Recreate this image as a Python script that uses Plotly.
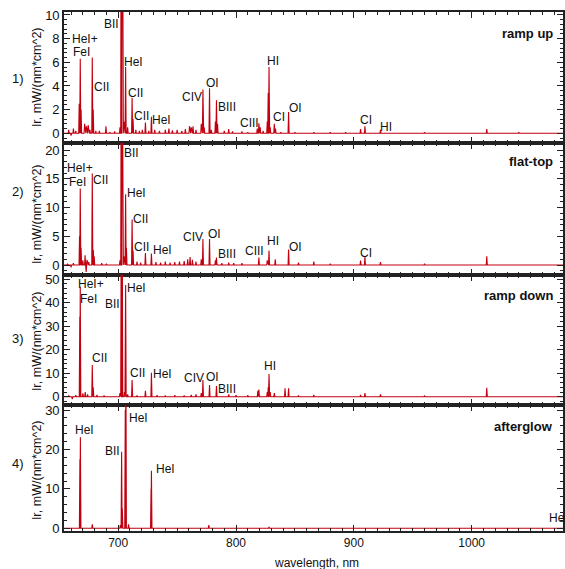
import plotly.graph_objects as go

# ---------------- data ----------------
WL_MIN, WL_MAX = 654.0, 1077.5

# panel 1: ramp up  (wavelength nm, intensity mW/(nm*cm^2))
ramp_up_wl = [658, 660, 662, 664, 666.9, 667.8, 668.5, 671.5, 673, 674.5, 676,
              678.0, 678.8, 681, 684, 689.6, 693, 697, 701.5, 702.6, 703.4,
              704.8, 706.3, 708, 711.8, 712.6, 715, 718, 720.5, 723.1, 726,
              728.2, 731, 735, 740, 743, 746, 750, 754, 757, 760.5, 762,
              763.5, 766, 770.5, 771.9, 773, 777.5, 779, 782.5, 783.4, 784.3,
              790, 793.8, 797, 805, 810, 818, 819.4, 820.5, 823, 826.5, 827.3,
              828.0, 829, 832.5, 833.5, 838, 844.6, 850, 866, 880, 893, 905.7,
              909.4, 922.6, 960, 1012.8, 1040]
ramp_up_int = [0.3, -0.2, 0.4, 0.2, 2.5, 6.3, 2.0, 0.8, 0.6, 0.7, 0.3,
               6.4, 2.0, 0.2, 0.2, 0.6, 0.1, 0.15, 0.5, 30, 30,
               1.0, 5.6, 0.5, 3.0, 1.2, 0.3, 0.2, 0.3, 0.9, 0.2,
               1.4, 0.3, 0.2, 0.3, 0.4, 0.25, 0.3, 0.2, 0.35, 0.6, 0.5,
               0.6, 0.3, 0.8, 3.7, 0.5, 3.8, 0.3, 1.0, 2.8, 0.8,
               0.2, 0.35, 0.15, 0.15, 0.1, 0.4, 0.85, 0.5, 0.2, 1.0, 3.4,
               5.6, 0.5, 0.8, 0.4, 0.1, 1.8, 0.1, 0.1, 0.1, 0.1, 0.35,
               0.6, 0.3, 0.1, 0.35, 0.1]

# panel 2: flat-top
flat_top_wl = [657, 660, 662, 667.2, 667.8, 668.5, 670, 671.9, 672.8, 673.5, 675,
               678.0, 678.9, 679.6, 686, 690, 701.5, 702.6, 703.4, 704.8, 706.3,
               707, 711.8, 712.6, 716, 719, 723.1, 728.2, 732, 736, 740, 744,
               748, 752, 756, 759, 761, 763, 766, 770.5, 771.9, 777.5, 782.5,
               783.4, 788, 793.8, 798, 805, 819.4, 826.5, 828.0, 833.3, 844.6,
               853, 866, 880, 905.7, 909.4, 922.6, 960, 1012.8]
flat_top_int = [0.2, -0.4, 0.3, 5.0, 13.3, 3.0, 0.8, 1.7, -1.2, 0.9, 0.5,
                15.9, 2.6, 1.5, 0.3, 0.2, 0.8, 40, 40, 1.5, 12.3,
                3.0, 7.9, 2.5, 0.6, 0.4, 2.1, 2.0, 0.5, 0.4, 0.6, 0.4,
                0.5, 0.6, 0.7, 1.0, 1.4, 0.9, 0.6, 1.0, 4.5, 4.5, 0.8,
                1.3, 0.3, 0.4, 0.3, 0.3, 1.3, 0.8, 2.5, 1.0, 2.7,
                0.4, 0.6, 0.2, 0.75, 1.4, 0.5, 0.2, 1.5]

# panel 3: ramp down
ramp_down_wl = [658, 661, 664, 667.4, 667.8, 670, 672, 674, 678.0, 678.8, 682,
                688, 701.5, 702.6, 703.4, 705.3, 706.3, 708, 711.8, 716, 723.1,
                728.2, 733, 740, 748, 756, 762, 766, 770.5, 771.9, 777.5, 783.4,
                793.8, 800, 810, 818.5, 819.4, 826.5, 827.3, 828.0, 829, 832.5,
                841.6, 844.6, 853, 866, 880, 905.7, 909.4, 922.6, 960, 1012.8]
ramp_down_int = [0.5, -1.0, 0.6, 34, 46.8, 1.4, 2.0, 1.0, 13.5, 4.0, 0.8,
                 0.5, 1.5, 80, 80, 2.0, 47.5, 1.0, 7.1, 0.5, 2.5,
                 10.2, 0.6, 0.5, 0.6, 0.5, 0.8, 1.0, 1.5, 7.1, 5.0, 4.5,
                 1.0, 0.6, 0.6, 2.5, 3.0, 2.0, 4.0, 9.7, 2.0, 1.5,
                 3.6, 3.6, 0.5, 0.8, 0.3, 0.8, 1.5, 1.0, 0.3, 3.8]

# panel 4: afterglow
afterglow_wl = [667.5, 667.9, 678.0, 701.8, 702.9, 703.5, 706.0, 706.5, 708.8,
                727.9, 728.2, 776.9, 828.0]
afterglow_int = [17.5, 23.1, 1.0, 0.8, 19.4, 5.0, 30, 45, 1.0,
                 10, 14.6, 0.8, 0.3]

# line identification labels: (text, wavelength, intensity)
labels_1 = [("HeI+", 671.9, 7.95), ("FeI", 668.5, 6.85), ("CII", 686.0, 3.89),
            ("BII", 694.4, 9.24), ("HeI", 713.3, 6.05), ("CII", 714.8, 3.38),
            ("CII", 719.8, 1.46), ("HeI", 736.9, 1.12), ("CIV", 762.9, 3.09),
            ("OI", 780.1, 4.28), ("BIII", 792.7, 2.25), ("CIII", 811.6, 0.85),
            ("HI", 831.6, 6.14), ("CI", 836.4, 1.40), ("OI", 850.5, 2.11),
            ("CI", 910.0, 1.12), ("HI", 926.9, 0.56)]
labels_2 = [("HeI+", 667.6, 16.9), ("FeI", 665.5, 14.5), ("CII", 685.2, 14.8),
            ("BII", 711.3, 19.4), ("HeI", 715.6, 12.5), ("CII", 719.0, 7.95),
            ("CII", 719.8, 3.18), ("HeI", 737.4, 2.61), ("CIV", 763.4, 4.82),
            ("OI", 781.5, 5.39), ("BIII", 792.6, 1.91), ("CIII", 815.6, 2.49),
            ("HI", 831.0, 4.23), ("OI", 850.5, 3.18), ("CI", 910.2, 2.03)]
labels_3 = [("HeI+", 676.8, 48.0), ("FeI", 675.1, 41.4), ("BII", 695.3, 39.4),
            ("HeI", 715.8, 46.1), ("CII", 684.4, 16.3), ("CII", 716.5, 10.2),
            ("HeI", 737.4, 9.66), ("CIV", 764.0, 7.83), ("OI", 780.1, 8.26),
            ("BIII", 792.7, 3.15), ("HI", 829.1, 13.1)]
labels_4 = [("HeI", 671.0, 24.9), ("BII", 695.5, 19.7), ("HeI", 717.3, 27.9),
            ("HeI", 739.9, 15.0)]

phase_names = ["ramp up", "flat-top", "ramp down", "afterglow"]
panel_tags = ["1)", "2)", "3)", "4)"]
y_ranges = [[-0.82, 10.25], [-1.74, 21.22], [-3.53, 51.79], [-0.69, 31.29]]
y_dticks = [2, 5, 10, 10]
y_minor = [0.4, 1, 2, 2]
x_tickvals = [700, 800, 900, 1000]

# ---------------- layout helpers ----------------
W, H = 565, 569
ML, MR, MT, MB = 64, 0, 12, 38
plot_h = H - MT - MB
panel_px = [12, 143, 275, 405, 531]


def py(pix):
    return (H - MB - pix) / plot_h


def px(pix):
    return (pix - ML) / (W - ML - MR)


domains = [[py(panel_px[i + 1]), py(panel_px[i])] for i in range(4)]

RED = "#c20010"
HALF = 0.45


def spectrum(wl, inten):
    pairs = sorted(zip(wl, inten))
    xs, ys = [WL_MIN], [0.0]
    for w, h in pairs:
        xs += [w - HALF, w, w + HALF]
        ys += [0.0, h, 0.0]
    xs.append(WL_MAX)
    ys.append(0.0)
    return xs, ys


spectra = [(ramp_up_wl, ramp_up_int), (flat_top_wl, flat_top_int),
           (ramp_down_wl, ramp_down_int), (afterglow_wl, afterglow_int)]
all_labels = [labels_1, labels_2, labels_3, labels_4]

fig = go.Figure()
font_main = "Arial, Liberation Sans, sans-serif"

for i, (wl, inten) in enumerate(spectra):
    k = "" if i == 0 else str(i + 1)
    xs, ys = spectrum(wl, inten)
    fig.add_trace(go.Scatter(x=xs, y=ys, mode="lines",
                             line=dict(color=RED, width=1.1),
                             xaxis="x" + k, yaxis="y" + k,
                             showlegend=False, hoverinfo="skip"))

annotations = []
title_centers = [77, 214, 341, 470]
tag_centers = [78, 191.7, 338.3, 463.3]
name_centers = [33, 161.7, 295, 426.7]

for i in range(4):
    k = "" if i == 0 else str(i + 1)
    fig.layout["xaxis" + k] = dict(
        domain=[0, 1], range=[WL_MIN, WL_MAX], anchor="y" + k,
        tickvals=x_tickvals, ticks="inside", ticklen=6, tickwidth=1,
        tickcolor="#222", minor=dict(dtick=10, ticks="inside", ticklen=3,
                                     tickcolor="#222", showgrid=False),
        mirror="allticks", showline=True, linecolor="#222", linewidth=1.6,
        showgrid=False, zeroline=False, showticklabels=(i == 3),
        tickfont=dict(family=font_main, size=12, color="#111"),
    )
    fig.layout["yaxis" + k] = dict(
        domain=domains[i], range=y_ranges[i], anchor="x" + k,
        dtick=y_dticks[i], tick0=0, ticks="inside", ticklen=6, tickwidth=1,
        tickcolor="#222", minor=dict(dtick=y_minor[i], ticks="inside",
                                     ticklen=3, tickcolor="#222",
                                     showgrid=False),
        mirror="allticks", showline=True, linecolor="#222", linewidth=1.6,
        showgrid=False, zeroline=False,
        tickfont=dict(family=font_main, size=13, color="#111"),
    )
    for text, w, v in all_labels[i]:
        annotations.append(dict(text=text, x=w, y=v, xref="x" + k,
                                yref="y" + k, showarrow=False,
                                xanchor="center", yanchor="middle",
                                font=dict(family=font_main, size=12,
                                          color="#111")))
    annotations.append(dict(text="<b>" + phase_names[i] + "</b>",
                            x=px(557), y=py(name_centers[i]), xref="paper",
                            yref="paper", xanchor="right", yanchor="middle",
                            showarrow=False,
                            font=dict(family=font_main, size=13,
                                      color="#111")))
    annotations.append(dict(text=panel_tags[i], x=px(18), y=py(tag_centers[i]),
                            xref="paper", yref="paper", xanchor="center",
                            yanchor="middle", showarrow=False,
                            font=dict(family=font_main, size=13,
                                      color="#111")))
    annotations.append(dict(text="Ir, mW/(nm*cm^2)", x=px(37),
                            y=py(title_centers[i]), xref="paper",
                            yref="paper", xanchor="center", yanchor="middle",
                            textangle=-90, showarrow=False,
                            font=dict(family=font_main, size=12.5,
                                      color="#111")))

# partially visible label at the right edge of the afterglow panel
annotations.append(dict(text="HeI", x=1064.1, y=2.6, xref="x4", yref="y4",
                        xanchor="left", yanchor="middle", showarrow=False,
                        font=dict(family=font_main, size=12, color="#111")))
annotations.append(dict(text="wavelength, nm", x=px(318), y=py(563),
                        xref="paper", yref="paper", xanchor="center",
                        yanchor="middle", showarrow=False,
                        font=dict(family=font_main, size=12, color="#111")))

fig.update_layout(width=W, height=H, margin=dict(l=ML, r=MR, t=MT, b=MB),
                  paper_bgcolor="white", plot_bgcolor="white",
                  annotations=annotations, showlegend=False)

fig.write_html("out.html", config={"displayModeBar": False},
               post_script="document.body.style.margin='0';"
                           "document.body.style.overflow='hidden';")
